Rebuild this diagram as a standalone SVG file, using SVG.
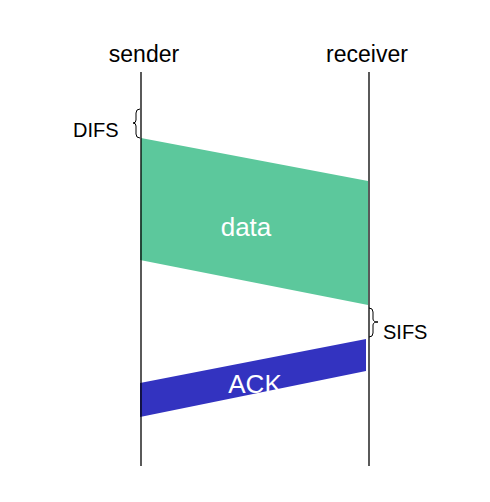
<svg xmlns="http://www.w3.org/2000/svg" width="490" height="502" viewBox="0 0 490 502">
<style>
.lbl{font-family:"Liberation Sans",Arial,sans-serif;fill:#000}
.in{font-family:"Liberation Sans",Arial,sans-serif;fill:#fff;font-size:26px;text-anchor:middle}
.life{stroke:#000;stroke-width:1.3;fill:none}
.brace{stroke:#000;stroke-width:1;fill:none}
</style>
<rect width="490" height="502" fill="#fff"/>
<g id="data">
<polygon points="141,138 368,181 368,305 140,260" fill="#5cc89c"/>
<text class="in" x="246" y="236">data</text>
</g>
<g id="ack">
<polygon points="140,383 366,339 366,371 140,417" fill="#3333c0"/>
<text class="in" x="255" y="393" font-size="27">ACK</text>
</g>
<g id="sender">
<text class="lbl" x="144" y="62" font-size="23" text-anchor="middle">sender</text>
</g>
<g id="receiver">
<text class="lbl" x="367" y="62" font-size="23" text-anchor="middle">receiver</text>
</g>
<g id="connectors">
<line class="life" x1="141" y1="72" x2="141" y2="466"/>
<line class="life" x1="369" y1="72" x2="369" y2="466"/>
</g>
<g id="difs">
<path class="brace" d="M140,109 Q136,109 136,113 L136,120 Q136,123 133,123 Q136,123 136,126 L136,134 Q136,138 140,138"/>
<text class="lbl" x="73" y="137" font-size="20">DIFS</text>
</g>
<g id="sifs">
<path class="brace" d="M369,308 Q373,308 373,312 L373,319 Q373,322 378,322 Q373,322 373,325 L373,333 Q373,337 369,337"/>
<text class="lbl" x="383" y="339" font-size="20">SIFS</text>
</g>
</svg>
